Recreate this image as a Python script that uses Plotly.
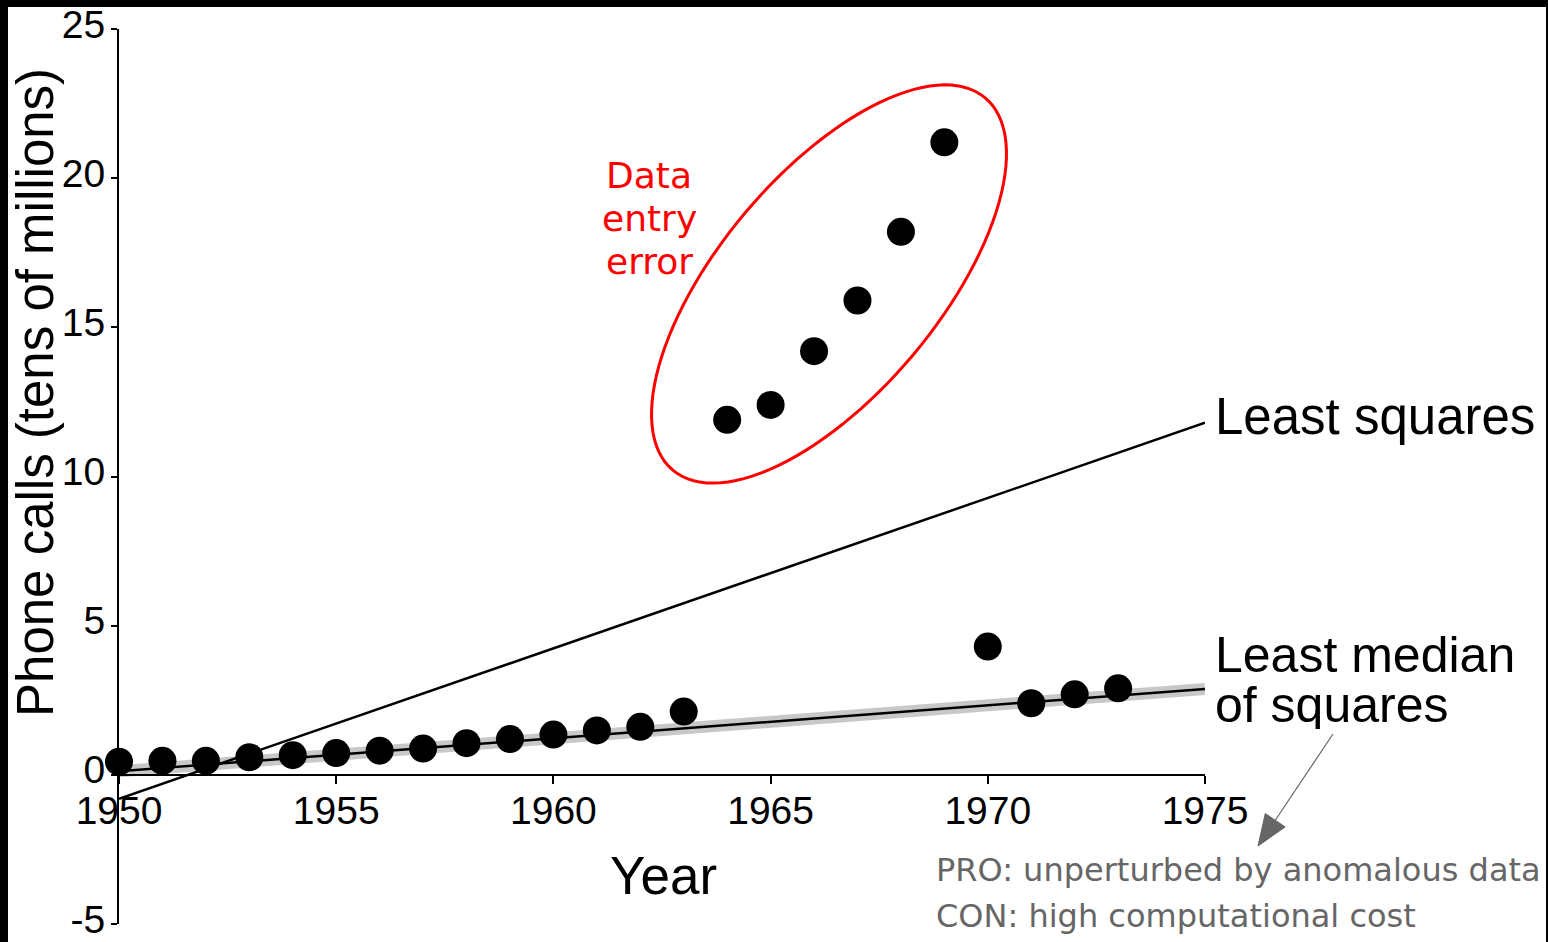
import math
import plotly.graph_objects as go

# ---------------- data ----------------
years = list(range(1950, 1974))
calls = [0.44, 0.47, 0.47, 0.59, 0.66, 0.73, 0.81, 0.88, 1.06, 1.20, 1.35, 1.49,
         1.61, 2.12, 11.90, 12.40, 14.20, 15.90, 18.20, 21.20, 4.30, 2.40, 2.70, 2.90]
fit_years = [1950, 1975]
ls_fit = [-0.80, 11.80]      # least squares line endpoints
lms_fit = [0.12, 2.88]       # least median of squares line endpoints
x_ticks = [1950, 1955, 1960, 1965, 1970, 1975]
y_ticks = [-5, 0, 5, 10, 15, 20, 25]

# ---------------- geometry (pixels) ----------------
W, H = 1548, 942
L, R, T, B = 119, 1205, 29, 924
PW, PH = R - L, B - T
X0, X1 = 1950, 1975
Y0, Y1 = -5, 25
SX = PW / (X1 - X0)
SY = PH / (Y1 - Y0)


def xp(px):
    return (px - L) / PW


def yp(py):
    return (B - py) / PH


def dx(px):
    return X0 + (px - L) / SX


def dy(py):
    return Y0 + (B - py) / SY


SANS = "Liberation Sans, Arial, sans-serif"
DEJ = "DejaVu Sans, sans-serif"

fig = go.Figure()

# grey band behind LMS line
fig.add_trace(go.Scatter(x=fit_years, y=lms_fit, mode="lines",
                         line=dict(color="#c8c8c8", width=12),
                         hoverinfo="skip", cliponaxis=False, showlegend=False))
fig.add_trace(go.Scatter(x=fit_years, y=lms_fit, mode="lines",
                         line=dict(color="black", width=2.5),
                         hoverinfo="skip", cliponaxis=False, showlegend=False))
fig.add_trace(go.Scatter(x=fit_years, y=ls_fit, mode="lines",
                         line=dict(color="black", width=2.5),
                         hoverinfo="skip", cliponaxis=False, showlegend=False))
fig.add_trace(go.Scatter(x=years, y=calls, mode="markers",
                         marker=dict(color="black", size=28, line=dict(width=0)),
                         cliponaxis=False, showlegend=False))

shapes = []
# white page over black background (black frame top/left/right)
shapes.append(dict(type="rect", xref="paper", yref="paper",
                   x0=xp(8), x1=xp(1546), y0=yp(950), y1=yp(7),
                   fillcolor="white", line=dict(width=0), layer="below"))

# red ellipse around the data entry error
cxp, cyp, a, b, phi = 829, 284, 243, 110, math.radians(50)
pts = []
for i in range(121):
    t = 2 * math.pi * i / 120
    ex = a * math.cos(t) * math.cos(phi) - b * math.sin(t) * math.sin(phi)
    ey = a * math.cos(t) * math.sin(phi) + b * math.sin(t) * math.cos(phi)
    pts.append((dx(cxp + ex), dy(cyp - ey)))
path = "M " + " L ".join(f"{x:.4f},{y:.4f}" for x, y in pts) + " Z"
shapes.append(dict(type="path", xref="x", yref="y", path=path,
                   line=dict(color="#ff0000", width=3)))

# arrow (grey) from label to PRO/CON text
ax0, ay0 = 1333, 734
tipx, tipy = 1258, 846
ux, uy = tipx - ax0, tipy - ay0
ln = math.hypot(ux, uy)
ux, uy = ux / ln, uy / ln
hl, hw = 31, 12
bx, by = tipx - hl * ux, tipy - hl * uy
nx, ny = -uy, ux
shapes.append(dict(type="line", xref="paper", yref="paper",
                   x0=xp(ax0), y0=yp(ay0), x1=xp(bx), y1=yp(by),
                   line=dict(color="#666666", width=1.2)))
tri = (f"M {xp(tipx)},{yp(tipy)} L {xp(bx + hw * nx)},{yp(by + hw * ny)} "
       f"L {xp(bx - hw * nx)},{yp(by - hw * ny)} Z")
shapes.append(dict(type="path", xref="paper", yref="paper", path=tri,
                   fillcolor="#666666", line=dict(color="#666666", width=1)))

annotations = []


def ann(text, x, y, size, font, color="black", xanchor="center", angle=0, height=None):
    d = dict(text=text, xref="paper", yref="paper", x=xp(x), y=yp(y),
             xanchor=xanchor, yanchor="middle", showarrow=False,
             textangle=angle, borderpad=0,
             font=dict(family=font, size=size, color=color))
    if height is not None:
        d["height"] = height
        d["valign"] = "middle"
    annotations.append(d)


ann("Phone calls (tens of millions)", 35, 393, 51, SANS, angle=-90)
ann("Year", 663, 875, 53, SANS)
ann("Least squares", 1214, 416, 51, SANS, xanchor="left")
ann("Least median", 1214, 655, 50, SANS, xanchor="left", height=48)
ann("of squares", 1214, 705, 50, SANS, xanchor="left", height=48)
ann("Data", 649, 175, 36, DEJ, color="#ff0000", height=42)
ann("entry", 649, 218, 36, DEJ, color="#ff0000", height=42)
ann("error", 649, 261, 36, DEJ, color="#ff0000", height=42)
ann("PRO: unperturbed by anomalous data", 935, 870, 32, DEJ, color="#666666", xanchor="left")
ann("CON: high computational cost", 935, 916, 32, DEJ, color="#666666", xanchor="left")

fig.update_layout(
    width=W, height=H,
    margin=dict(l=L, r=W - R, t=T, b=H - B, pad=0, autoexpand=False),
    paper_bgcolor="black",
    plot_bgcolor="rgba(0,0,0,0)",
    showlegend=False,
    hovermode=False,
    shapes=shapes,
    annotations=annotations,
    xaxis=dict(range=[X0, X1], anchor="free", position=(0 - Y0) / (Y1 - Y0),
               showline=True, linecolor="black", linewidth=2,
               ticks="outside", ticklen=8, tickwidth=2, tickcolor="black",
               tickvals=x_ticks, ticktext=[str(v) for v in x_ticks],
               tickfont=dict(family=SANS, size=39, color="black"),
               ticklabelstandoff=-7, ticklabeloverflow="allow", automargin=False,
               showgrid=False, zeroline=False, fixedrange=True),
    yaxis=dict(range=[Y0, Y1],
               showline=True, linecolor="black", linewidth=2,
               ticks="outside", ticklen=6, tickwidth=2, tickcolor="black",
               tickvals=y_ticks, ticktext=[str(v) for v in y_ticks],
               tickfont=dict(family=SANS, size=39, color="black"),
               ticklabelstandoff=-2, ticklabelshift=-5, ticklabeloverflow="allow",
               automargin=False,
               showgrid=False, zeroline=False, fixedrange=True),
)

fig.write_html("out.html", config={"displayModeBar": False})
